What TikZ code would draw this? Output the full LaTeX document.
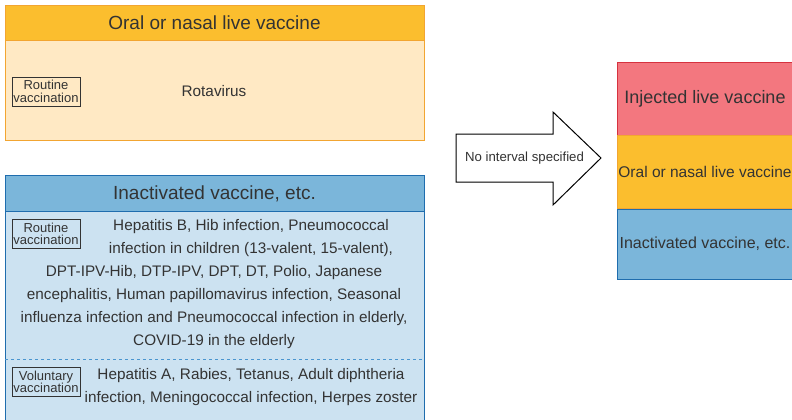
\documentclass[tikz,border=0pt]{standalone}
\usepackage{fontspec}
\setmainfont{Liberation Sans}
\usetikzlibrary{positioning}
\definecolor{txtgray}{HTML}{333333}
\definecolor{orangehead}{HTML}{FBBE2E}
\definecolor{orangebody}{HTML}{FFE9C4}
\definecolor{orangeline}{HTML}{F2A531}
\definecolor{bluehead}{HTML}{7BB6DA}
\definecolor{bluebody}{HTML}{CCE2F1}
\definecolor{blueline}{HTML}{1F6DAE}
\definecolor{bluedash}{HTML}{4A95CF}
\definecolor{redfill}{HTML}{F3777F}
\definecolor{redline}{HTML}{D6323F}
\tikzset{
  tagbox/.style={draw=txtgray, line width=0.8pt, inner sep=0pt, minimum width=68pt,
    minimum height=29pt, align=center, font=\fontsize{13}{12.5}\selectfont},
  headtext/.style={font=\fontsize{19}{22}\selectfont},
  bodytext/.style={align=center, font=\fontsize{15.3}{23}\selectfont},
  stackbox/.style={minimum width=176pt, minimum height=73pt, inner sep=0pt,
    font=\fontsize{16}{19}\selectfont}
}
\begin{document}
\begin{tikzpicture}[x=1pt, y=-1pt, every node/.append style={text=txtgray}]
			%%%%% START %%%%%
			\useasboundingbox (0, 0) rectangle (792, 420);
			
			% oral or nasal live vaccine panel
			\draw[draw=orangeline, fill=orangebody] (5, 40) rectangle (424, 140);
			\draw[draw=orangeline, fill=orangehead] (5, 5) rectangle (424, 40);
			\node[headtext] (oralhead) at (214.5, 23) {Oral or nasal live vaccine};
			\node[tagbox] (oraltag) at (46, 91.5) {Routine\\vaccination};
			\node[bodytext] (rota) at (214, 91) {Rotavirus};
			
			% inactivated vaccine panel
			\draw[draw=blueline, fill=bluebody] (5, 211) rectangle (424, 430);
			\draw[draw=blueline, fill=bluehead] (5, 175) rectangle (424, 211);
			\node[headtext] (inacthead) at (214.5, 193.5) {Inactivated vaccine, etc.};
			\draw[draw=bluedash, dashed, line width=0.8pt] (5, 359) -- (424, 359);
			
			\node[tagbox] (routinetag) at (46, 234) {Routine\\vaccination};
			\node[bodytext] (routinetop) at (251, 238.5) {Hepatitis B, Hib infection, Pneumococcal\\
				infection in children (13-valent, 15-valent),};
			\node[bodytext] (routinerest) at (214, 307.5) {DPT-IPV-Hib, DTP-IPV, DPT, DT, Polio, Japanese\\
				encephalitis, Human papillomavirus infection, Seasonal\\
				influenza infection and Pneumococcal infection in elderly,\\
				COVID-19 in the elderly};
			
			\node[tagbox] (voluntag) at (46, 382) {Voluntary\\vaccination};
			\node[bodytext] (voluntext) at (251, 387.5) {Hepatitis A, Rabies, Tetanus, Adult diphtheria\\
				infection, Meningococcal infection, Herpes zoster};
			
			% big arrow
			\draw[draw=black, fill=white, line width=1pt] (456, 134) -- (553, 134) -- (553, 112) -- (601, 158)
				-- (553, 205) -- (553, 182) -- (456, 182) -- cycle;
			\node[font=\fontsize{13.2}{15}\selectfont] (nointerval) at (524.5, 158) {No interval specified};
			
			% order of vaccine types
			\node[stackbox, fill=redfill, draw=redline, font=\fontsize{18}{21}\selectfont] (injected) at (705, 98.5) {Injected live vaccine};
			\node[stackbox, fill=orangehead, draw=orangeline, font=\fontsize{15.5}{18}\selectfont, below=0pt of injected] (oralstack) {Oral or nasal live vaccine};
			\node[stackbox, fill=bluehead, draw=blueline, minimum height=70pt, below=0pt of oralstack] (inactstack) {Inactivated vaccine, etc.};
			
			%%%%% END %%%%%
\end{tikzpicture}
\end{document}
